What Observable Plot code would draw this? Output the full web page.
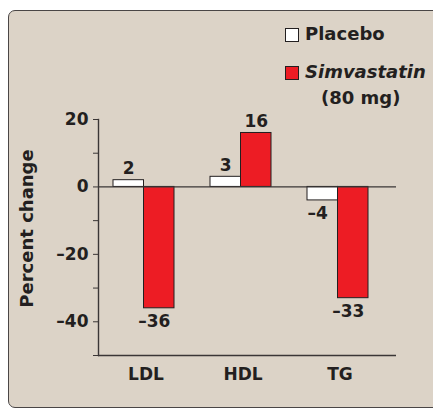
<!DOCTYPE html>
<html>
<head>
<meta charset="utf-8">
<script src="https://cdn.jsdelivr.net/npm/d3@7"></script>
<script src="https://cdn.jsdelivr.net/npm/@observablehq/plot@0.6"></script>
<style>
  html, body { margin: 0; padding: 0; background: #ffffff; }
  #wrap { position: relative; width: 433px; height: 409px; overflow: hidden; font-family: "DejaVu Sans", "Open Sans", sans-serif; color: #231f20; }
  #panel { position: absolute; left: 8px; top: 10px; width: 520px; height: 396px; background: #dcd3c7; border: 1.3px solid #4a4646; border-radius: 7px; }
  #chart { position: absolute; left: 0; top: 0; }
  .leg { position: absolute; font-weight: 700; font-size: 18px; line-height: 22px; white-space: nowrap; }
  .sw { position: absolute; width: 12px; height: 12px; border: 1px solid #231f20; }
</style>
</head>
<body>
<div id="wrap">
  <div id="panel"></div>
  <div id="chart"></div>
  <div id="legend"></div>
</div>
<script>
const categories = ["LDL", "HDL", "TG"];
const seriesNames = ["Placebo", "Simvastatin"];
const placebo = [2, 3, -4];
const simvastatin = [-36, 16, -33];
const yTicks = [20, 10, 0, -10, -20, -30, -40, -50];
const yLabelTicks = [20, 0, -20, -40];
const colors = ["#ffffff", "#ed1c24"];
const yTitle = "Percent change";
const doseNote = "(80 mg)";

const fmt = v => (v < 0 ? "\u2013" + Math.abs(v) : String(v));

const data = [];
categories.forEach((c, i) => {
  data.push({cat: c, series: seriesNames[0], value: placebo[i]});
  data.push({cat: c, series: seriesNames[1], value: simvastatin[i]});
});

const bw = 30.5;
const ink = "#231f20";
const font = "DejaVu Sans, Open Sans, sans-serif";
const txt = {fontFamily: font, fontWeight: 700, fill: ink, fontSize: 17};

const P = data.filter(d => d.series === seriesNames[0]);
const S = data.filter(d => d.series === seriesNames[1]);

const chart = Plot.plot({
  width: 433,
  height: 409,
  marginTop: 119,
  marginBottom: 54,
  marginLeft: 98,
  marginRight: 37,
  style: {background: "transparent", fontFamily: font, color: ink, overflow: "visible"},
  x: {domain: categories, paddingInner: 0.37, paddingOuter: 0.22, align: 0.35, axis: null},
  y: {domain: [-50, 20], axis: null},
  color: {domain: seriesNames, range: colors},
  marks: [
    Plot.barY(P, {x: "cat", y: "value", fill: "series", stroke: ink, strokeWidth: 1, insetRight: bw}),
    Plot.barY(S, {x: "cat", y: "value", fill: "series", stroke: ink, strokeWidth: 1, insetLeft: bw}),
    Plot.ruleY([0], {stroke: "#3a3636", strokeWidth: 1.2}),
    Plot.ruleY([-50], {stroke: "#3a3636", strokeWidth: 1.4}),
    Plot.axisY({ticks: yTicks, tickSize: 5, tickPadding: 5, stroke: "#3a3636", tickFormat: v => yLabelTicks.includes(v) ? fmt(v) : "", fontSize: 17, fontWeight: 700, fontFamily: font, fill: ink, label: null}),
    Plot.text([yTitle], {frameAnchor: "left", textAnchor: "middle", rotate: -90, dx: -71, dy: -9, ...txt, fontSize: 18}),
    Plot.frame({anchor: "left", stroke: "#3a3636", strokeWidth: 1.4}),
    Plot.axisX({tickSize: 0, tickPadding: 12, fontSize: 17, fontWeight: 700, fontFamily: font, fill: ink, label: null, dx: 2}),
    Plot.text(P.filter(d => d.value >= 0), {x: "cat", y: "value", text: d => fmt(d.value), dx: -bw / 2, dy: -6, lineAnchor: "bottom", ...txt}),
    Plot.text(P.filter(d => d.value < 0), {x: "cat", y: "value", text: d => fmt(d.value), dx: -bw / 2 - 5, dy: 7, lineAnchor: "top", ...txt}),
    Plot.text(S.filter(d => d.value >= 0), {x: "cat", y: "value", text: d => fmt(d.value), dx: bw / 2, dy: -6, lineAnchor: "bottom", ...txt}),
    Plot.text(S.filter(d => d.value < 0), {x: "cat", y: "value", text: d => fmt(d.value), dx: bw / 2 - 5, dy: 7, lineAnchor: "top", ...txt})
  ]
});
document.getElementById("chart").appendChild(chart);

// legend (HTML, above the plot)
const legend = document.getElementById("legend");
const legItems = [
  {name: seriesNames[0], color: colors[0], top: 28, italic: false},
  {name: seriesNames[1], color: colors[1], top: 66, italic: true}
];
legItems.forEach(it => {
  const sw = document.createElement("div");
  sw.className = "sw";
  sw.style.left = "285px";
  sw.style.top = it.top + "px";
  sw.style.background = it.color;
  legend.appendChild(sw);
  const lab = document.createElement("div");
  lab.className = "leg";
  lab.style.left = "305px";
  lab.style.top = (it.top - 5) + "px";
  lab.style.fontStyle = it.italic ? "italic" : "normal";
  lab.textContent = it.name;
  legend.appendChild(lab);
});
const note = document.createElement("div");
note.className = "leg";
note.style.left = "321px";
note.style.top = "87px";
note.textContent = doseNote;
legend.appendChild(note);
</script>
</body>
</html>
